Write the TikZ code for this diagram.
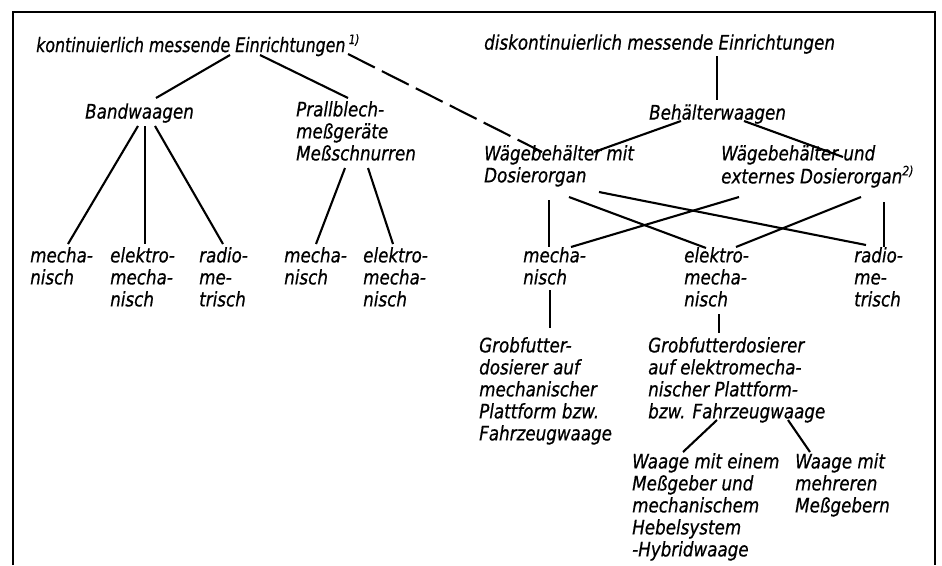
\documentclass[tikz,border=0pt]{standalone}
\usepackage{fontspec}
\newfontfamily\dvc{DejaVu Sans Condensed}[FakeStretch=0.93, FakeBold=0.6]
\newfontfamily\dvcn{DejaVu Sans Condensed}[FakeStretch=0.88, FakeBold=0.6]
\newcommand\dinfont{\dvc\fontsize{20}{22}\selectfont\itshape}
\newcommand\dinfontn{\dvcn\fontsize{20}{22}\selectfont\itshape}
\newcommand\fnote[1]{\raisebox{8pt}{\fontsize{13}{13}\selectfont #1}}
\begin{document}
\begin{tikzpicture}[x=1pt,y=-1pt,
  lbl/.style={anchor=north west, inner sep=0pt, align=left, font=\dinfont,
    execute at begin node=\strut, execute at end node=\strut},
  conn/.style={line width=2.1pt},
  dashconn/.style={conn, dash pattern=on 30pt off 8pt},
  frame/.style={line width=1.6pt}]
\useasboundingbox (0,0) rectangle (942,565);
\draw[frame] (13,565) -- (13,12) -- (935,12) -- (935,565);

% top level
\node[lbl, font=\dinfontn] (k) at (36,34) {kontinuierlich messende Einrichtungen\,\fnote{1)}};
\node[lbl] (d) at (484,34) {diskontinuierlich messende Einrichtungen};
% second level
\node[lbl] (bw) at (85,103) {Bandwaagen};
\node[lbl] (pb) at (296,101) {Prallblech-\\meßgeräte\\Meßschnurren};
\node[lbl] (bh) at (649,104) {Behälterwaagen};
\node[lbl] (wm) at (484,145) {Wägebehälter mit\\Dosierorgan};
\node[lbl] (wu) at (721,145) {Wägebehälter und\\externes Dosierorgan\fnote{2)}};
% third level
\node[lbl] (l1) at (30,247) {mecha-\\nisch};
\node[lbl] (l2) at (110,247) {elektro-\\mecha-\\nisch};
\node[lbl] (l3) at (199,247) {radio-\\me-\\trisch};
\node[lbl] (p1) at (284,247) {mecha-\\nisch};
\node[lbl] (p2) at (363,247) {elektro-\\mecha-\\nisch};
\node[lbl] (r1) at (523,247) {mecha-\\nisch};
\node[lbl] (r2) at (684,247) {elektro-\\mecha-\\nisch};
\node[lbl] (r3) at (854,247) {radio-\\me-\\trisch};
% fourth level
\node[lbl] (g1) at (479,337) {Grobfutter-\\dosierer auf\\mechanischer\\Plattform bzw.\\Fahrzeugwaage};
\node[lbl] (g2) at (648,337) {Grobfutterdosierer\\auf elektromecha-\\nischer Plattform-\\bzw. Fahrzeugwaage};
% fifth level
\node[lbl] (w1) at (632,453) {Waage mit einem\\Meßgeber und\\mechanischem\\Hebelsystem\\-Hybridwaage};
\node[lbl] (w2) at (795,453) {Waage mit\\mehreren\\Meßgebern};

% connectors
\draw[conn] ([shift={(194,21)}]k.north west) -- ([shift={(71,-5)}]bw.north west);
\draw[conn] ([shift={(224,21)}]k.north west) -- ([shift={(52,-3)}]pb.north west);
\draw[dashconn] ([shift={(312,20)}]k.north west) -- ([shift={(58,7)}]wm.north west);
\draw[conn] ([shift={(53,23)}]bw.north west) -- ([shift={(38,-3)}]l1.north west);
\draw[conn] ([shift={(60,23)}]bw.north west) -- ([shift={(35,-3)}]l2.north west);
\draw[conn] ([shift={(70,23)}]bw.north west) -- ([shift={(24,-3)}]l3.north west);
\draw[conn] ([shift={(49,67)}]pb.north west) -- ([shift={(32,-3)}]p1.north west);
\draw[conn] ([shift={(72,67)}]pb.north west) -- ([shift={(30,-3)}]p2.north west);
\draw[conn] ([shift={(233,22)}]d.north west) -- ([shift={(68,-4)}]bh.north west);
\draw[conn] ([shift={(32,17)}]bh.north west) -- ([shift={(110,7)}]wm.north west);
\draw[conn] ([shift={(95,17)}]bh.north west) -- ([shift={(122,12)}]wu.north west);
\draw[conn] ([shift={(65,55)}]wm.north west) -- ([shift={(26,0)}]r1.north west);
\draw[conn] ([shift={(85,52)}]wm.north west) -- ([shift={(22,1)}]r2.north west);
\draw[conn] ([shift={(115,47)}]wm.north west) -- ([shift={(12,-2)}]r3.north west);
\draw[conn] ([shift={(18,52)}]wu.north west) -- ([shift={(48,0)}]r1.north west);
\draw[conn] ([shift={(140,52)}]wu.north west) -- ([shift={(52,0)}]r2.north west);
\draw[conn] ([shift={(163,57)}]wu.north west) -- ([shift={(30,0)}]r3.north west);
\draw[conn] ([shift={(27,43)}]r1.north west) -- ([shift={(71,-9)}]g1.north west);
\draw[conn] ([shift={(35,67)}]r2.north west) -- ([shift={(71,-4)}]g2.north west);
\draw[conn] ([shift={(69,83)}]g2.north west) -- ([shift={(51,-1)}]w1.north west);
\draw[conn] ([shift={(140,83)}]g2.north west) -- ([shift={(15,-1)}]w2.north west);
\end{tikzpicture}
\end{document}
